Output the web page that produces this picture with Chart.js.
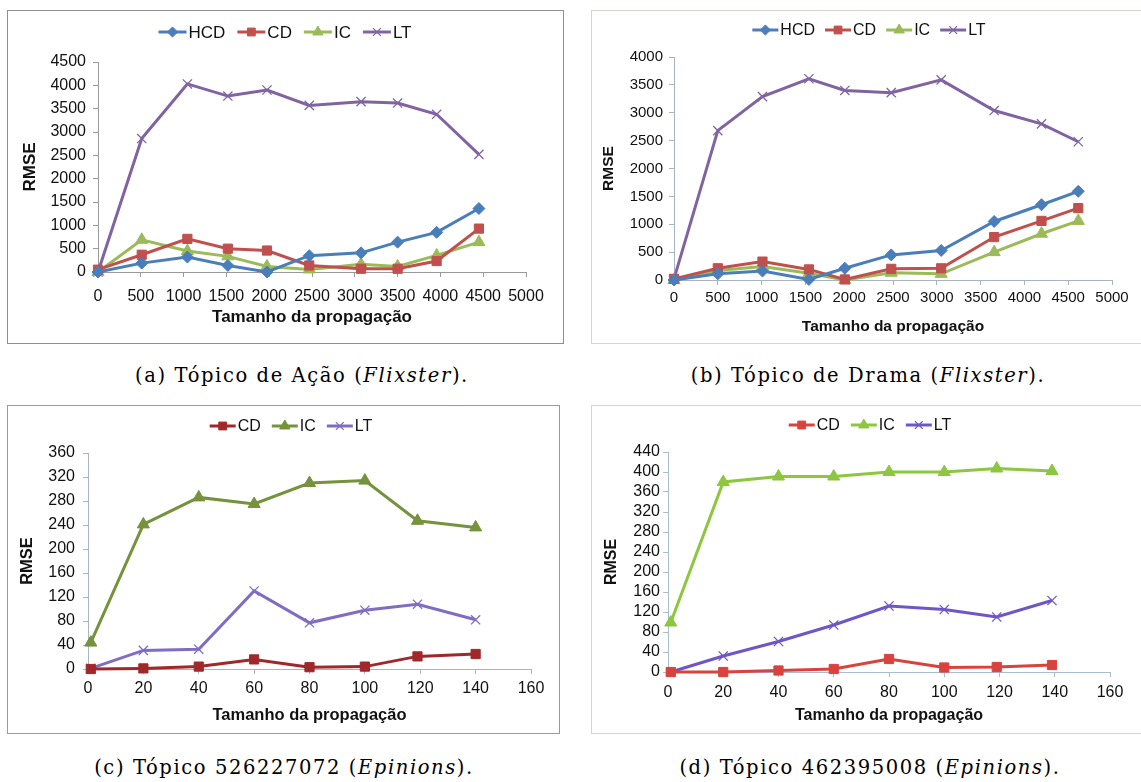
<!DOCTYPE html>
<html>
<head>
<meta charset="utf-8">
<script src="https://cdn.jsdelivr.net/npm/chart.js@4.4.1/dist/chart.umd.min.js"></script>
<style>
  html, body { margin: 0; padding: 0; background: #fff; }
  body { width: 1141px; height: 782px; position: relative; overflow: hidden; }
  .panel { position: absolute; box-sizing: border-box; background: #fff; }
  .panel canvas { position: absolute; left: 0; top: 0; }
  .cap { position: absolute; font-family: "DejaVu Serif", "Liberation Serif", serif; font-size: 19.5px; letter-spacing: 1.6px;
         color: #000; white-space: nowrap; transform: translate(-50%, -50%); line-height: 1; }
</style>
</head>
<body>
<div class="panel" style="left:7px;top:10px;width:557px;height:334px;border:1px solid #8e8e8e;"><canvas id="chartA"></canvas></div>
<div class="panel" style="left:591px;top:10px;width:600px;height:334px;border:1px solid #dcd2cd;"><canvas id="chartB"></canvas></div>
<div class="panel" style="left:7px;top:405px;width:553px;height:329px;border:1px solid #9a9a9a;"><canvas id="chartC"></canvas></div>
<div class="panel" style="left:591px;top:405px;width:600px;height:329px;border:1px solid #dcd2cd;"><canvas id="chartD"></canvas></div>

<div class="cap" style="left:302px;top:376px;">(a) Tópico de Ação (<i>Flixster</i>).</div>
<div class="cap" style="left:868px;top:376px;">(b) Tópico de Drama (<i>Flixster</i>).</div>
<div class="cap" style="left:284px;top:768px;">(c) Tópico 526227072 (<i>Epinions</i>).</div>
<div class="cap" style="left:870px;top:768px;">(d) Tópico 462395008 (<i>Epinions</i>).</div>

<script>
// ---- (a) Tópico de Ação (Flixster) ----
const xAcao   = [0, 511, 1044, 1517, 1974, 2468, 3073, 3500, 3956, 4450];
const hcdAcao = [0, 190, 320, 140, 0, 350, 410, 640, 850, 1360];
const cdAcao  = [50, 370, 710, 500, 460, 140, 70, 70, 235, 930];
const icAcao  = [0, 690, 450, 335, 120, 55, 165, 120, 355, 640];
const ltAcao  = [0, 2860, 4030, 3770, 3900, 3570, 3650, 3620, 3380, 2520];

// ---- (b) Tópico de Drama (Flixster) ----
const xDrama   = [0, 500, 1010, 1540, 1950, 2480, 3050, 3655, 4195, 4615];
const hcdDrama = [0, 110, 160, 10, 210, 450, 530, 1050, 1350, 1590];
const cdDrama  = [20, 210, 330, 190, 10, 200, 210, 770, 1060, 1290];
const icDrama  = [0, 170, 240, 120, 0, 130, 110, 500, 830, 1060];
const ltDrama  = [20, 2680, 3290, 3610, 3400, 3360, 3590, 3040, 2800, 2480];

// ---- (c) Tópico 526227072 (Epinions) ----
const x526  = [1, 20, 40, 60, 80, 100, 119, 140];
const cd526 = [0, 1, 4, 16, 3, 4, 21, 25];
const ic526 = [44, 241, 286, 275, 310, 314, 247, 236];
const lt526 = [1, 31, 33, 130, 77, 98, 108, 82];

// ---- (d) Tópico 462395008 (Epinions) ----
const x462  = [1, 20, 40, 60, 80, 100, 119, 139];
const cd462 = [0, 0, 3, 6, 26, 9, 10, 14];
const ic462 = [99, 380, 391, 391, 400, 400, 407, 402];
const lt462 = [0, 32, 61, 94, 132, 125, 110, 143];

const FONT = '"Liberation Sans", Arial, sans-serif';

const MARK = {
  HCD: { pointStyle: 'rectRot',  radius: 6, bw: 1 },
  CD:  { pointStyle: 'rect',     radius: 6.5, bw: 1 },
  IC:  { pointStyle: 'triangle', radius: 7, bw: 1 },
  LT:  { pointStyle: 'crossRot', radius: 6.5, bw: 1.3 }
};

function series(label, xs, ys, color) {
  const m = MARK[label];
  return {
    label,
    data: xs.map((x, i) => ({ x, y: ys[i] })),
    borderColor: color,
    backgroundColor: color,
    borderWidth: 3,
    pointStyle: m.pointStyle,
    pointRadius: m.radius,
    pointBorderWidth: m.bw,
    pointBackgroundColor: color,
    pointBorderColor: color,
    tension: 0,
    clip: false
  };
}

// Legend drawn Excel-style: short line with the marker in its middle, then the label.
const lineLegend = {
  id: 'lineLegend',
  afterDraw(chart, args, opts) {
    const ctx = chart.ctx;
    const lineLen = opts.lineLen, gap = opts.gap, itemGap = opts.itemGap;
    ctx.save();
    ctx.font = opts.fontSize + 'px ' + FONT;
    const items = chart.data.datasets.map(ds => ({ ds, w: lineLen + gap + ctx.measureText(ds.label).width }));
    const total = items.reduce((s, it) => s + it.w, 0) + itemGap * (items.length - 1);
    let x = opts.cx - total / 2;
    const y = opts.cy;
    items.forEach(it => {
      const ds = it.ds;
      ctx.strokeStyle = ds.borderColor;
      ctx.lineWidth = 3;
      ctx.beginPath();
      ctx.moveTo(x, y);
      ctx.lineTo(x + lineLen, y);
      ctx.stroke();
      ctx.fillStyle = ds.pointBackgroundColor;
      ctx.strokeStyle = ds.pointBorderColor;
      ctx.lineWidth = ds.pointBorderWidth;
      Chart.helpers.drawPoint(ctx, { pointStyle: ds.pointStyle, radius: ds.pointRadius * 0.85, rotation: 0, borderWidth: ds.pointBorderWidth }, x + lineLen / 2, y);
      ctx.fillStyle = '#111';
      ctx.textBaseline = 'middle';
      ctx.textAlign = 'left';
      ctx.fillText(ds.label, x + lineLen + gap, y + 1);
      x += it.w + itemGap;
    });
    ctx.restore();
  }
};

const plain = v => String(v);

function build(id, w, h, datasets, cfg) {
  const cv = document.getElementById(id);
  cv.width = w; cv.height = h;
  cv.style.width = w + 'px'; cv.style.height = h + 'px';
  const axisColor = cfg.axisColor;
  return new Chart(cv, {
    type: 'line',
    data: { datasets },
    plugins: [lineLegend],
    options: {
      responsive: false,
      animation: false,
      events: [],
      layout: { padding: cfg.pad },
      plugins: {
        legend: { display: false },
        tooltip: { enabled: false },
        lineLegend: cfg.legend
      },
      scales: {
        x: {
          type: 'linear', min: cfg.xMin, max: cfg.xMax,
          ticks: { stepSize: cfg.xStep, color: '#111', font: { family: FONT, size: cfg.tickSize }, padding: cfg.xTickPad,
                   maxRotation: 0, autoSkip: false, callback: plain },
          grid: { display: true, drawOnChartArea: false, drawTicks: true, tickLength: 5, color: axisColor, lineWidth: 1 },
          border: { color: axisColor, width: 1 },
          title: { display: true, text: 'Tamanho da propagação', color: '#111',
                   font: { family: FONT, size: cfg.titleSize, weight: 'bold' }, padding: { top: 0, bottom: cfg.xTitlePad } },
          afterFit(s) { s.height = cfg.xH; }
        },
        y: {
          min: cfg.yMin, max: cfg.yMax,
          ticks: { stepSize: cfg.yStep, color: '#111', font: { family: FONT, size: cfg.tickSize }, padding: cfg.yTickPad,
                   autoSkip: false, callback: plain },
          grid: { display: true, drawOnChartArea: false, drawTicks: true, tickLength: 5, color: axisColor, lineWidth: 1 },
          border: { color: axisColor, width: 1 },
          title: { display: true, text: 'RMSE', color: '#111',
                   font: { family: FONT, size: cfg.titleSize, weight: 'bold' }, padding: { top: cfg.yTitlePad, bottom: 0 } },
          afterFit(s) { s.width = cfg.yW; }
        }
      }
    }
  });
}

// Colours of the two Flixster panels
const blue = '#4A7EBB', red = '#C0504D', green = '#9BBB59', purple = '#8064A2';

build('chartA', 555, 332, [
  series('HCD', xAcao, hcdAcao, blue),
  series('CD',  xAcao, cdAcao,  red),
  series('IC',  xAcao, icAcao,  green),
  series('LT',  xAcao, ltAcao,  purple)
], {
  axisColor: '#9a9a9a', pad: { left: 8, right: 37, top: 51, bottom: 8 }, yW: 82, xH: 63,
  xMin: 0, xMax: 5000, xStep: 500, yMin: 0, yMax: 4500, yStep: 500,
  tickSize: 16, titleSize: 17, xTickPad: 10, yTickPad: 7, xTitlePad: 7, yTitlePad: 4,
  legend: { cx: 277, cy: 21, lineLen: 28, gap: 2, itemGap: 12, fontSize: 17 }
});

build('chartB', 549, 332, [
  series('HCD', xDrama, hcdDrama, blue),
  series('CD',  xDrama, cdDrama,  red),
  series('IC',  xDrama, icDrama,  green),
  series('LT',  xDrama, ltDrama,  purple)
], {
  axisColor: '#a9b4c2', pad: { left: 6, right: 29, top: 46, bottom: 6 }, yW: 76, xH: 57,
  xMin: 0, xMax: 5000, xStep: 500, yMin: 0, yMax: 4000, yStep: 500,
  tickSize: 15, titleSize: 15.5, xTickPad: 4, yTickPad: 6, xTitlePad: 1, yTitlePad: 1,
  legend: { cx: 277, cy: 19, lineLen: 26, gap: 2, itemGap: 10, fontSize: 16 }
});

build('chartC', 551, 327, [
  series('CD', x526, cd526, '#A0282B'),
  series('IC', x526, ic526, '#76923C'),
  series('LT', x526, lt526, '#7F6DC3')
], {
  axisColor: '#a8b4c0', pad: { left: 6, right: 28, top: 47, bottom: 6 }, yW: 74, xH: 58,
  xMin: 0, xMax: 160, xStep: 20, yMin: 0, yMax: 360, yStep: 40,
  tickSize: 16, titleSize: 16.5, xTickPad: 5, yTickPad: 8, xTitlePad: 2, yTitlePad: 4,
  legend: { cx: 283, cy: 20, lineLen: 26, gap: 2, itemGap: 11, fontSize: 16 }
});

build('chartD', 549, 327, [
  series('CD', x462, cd462, '#D9433E'),
  series('IC', x462, ic462, '#8DC63F'),
  series('LT', x462, lt462, '#6E56C9')
], {
  axisColor: '#a9bcd0', pad: { left: 6, right: 31, top: 46, bottom: 6 }, yW: 70, xH: 55,
  xMin: 0, xMax: 160, xStep: 20, yMin: 0, yMax: 440, yStep: 40,
  tickSize: 16, titleSize: 16, xTickPad: 6, yTickPad: 3, xTitlePad: 2, yTitlePad: 4,
  legend: { cx: 278, cy: 19, lineLen: 26, gap: 2, itemGap: 11, fontSize: 16 }
});
</script>
</body>
</html>
